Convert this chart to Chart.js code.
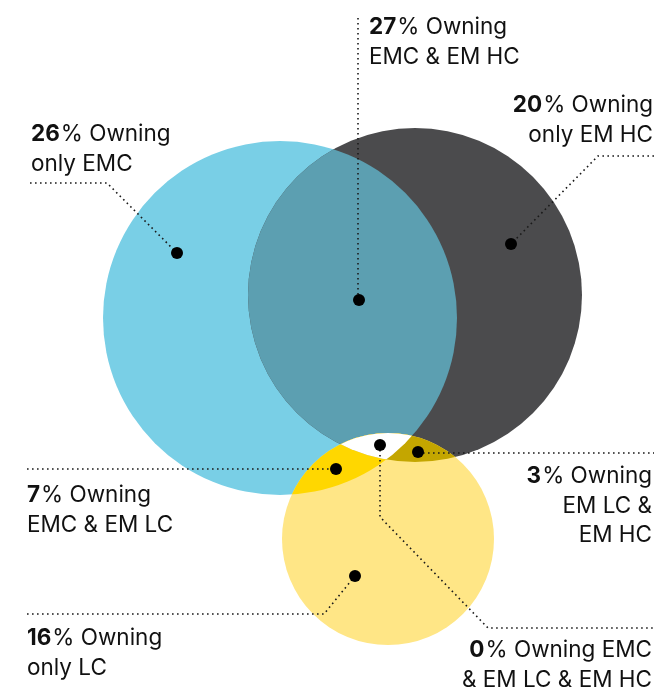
<!DOCTYPE html>
<html>
<head>
<meta charset="utf-8">
<script src="https://cdn.jsdelivr.net/npm/chart.js@4.4.0/dist/chart.umd.min.js"></script>
<style>
  html, body { margin: 0; padding: 0; background: #ffffff; }
  #wrap { width: 659px; height: 688px; position: relative; }
</style>
</head>
<body>
<div id="wrap"><canvas id="venn"></canvas></div>
<script>
// Sets and overlap shares (%)
const sets = ['EMC', 'EM HC', 'EM LC'];
const segments = ['only EMC', 'EMC & EM HC', 'only EM HC', 'EMC & EM LC', 'EM LC & EM HC', 'EMC & EM LC & EM HC', 'only LC'];
const shares = [26, 27, 20, 7, 3, 0, 16];
const labelLines = [
    ['Owning', 'only EMC'],
    ['Owning', 'EMC & EM HC'],
    ['Owning', 'only EM HC'],
    ['Owning', 'EMC & EM LC'],
    ['Owning', 'EM LC &', 'EM HC'],
    ['Owning EMC', '& EM LC & EM HC'],
    ['Owning', 'only LC']
];

// circle geometry, in chart units
const circleX = [280, 415, 388];
const circleY = [318, 295, 539];
const circleR = [177, 167, 106];

// marker dots and leader lines
const dotX = [177, 359, 511, 336, 418, 380, 355];
const dotY = [253, 300, 244, 469, 452, 445, 576];
const leaders = [
    [[30, 183], [107, 183], [177, 253]],
    [[358, 18], [358, 300]],
    [[654, 156], [598, 156], [511, 244]],
    [[27, 469], [336, 469]],
    [[418, 453], [654, 453]],
    [[380, 445], [380, 517], [488, 628], [655, 628]],
    [[27, 614], [324, 614], [355, 576]]
];
const labelX = [31, 369, 653, 27, 652, 652, 27];
const labelY = [141, 34, 112, 502, 483, 657, 645];
const labelAlign = ['left', 'left', 'right', 'left', 'right', 'right', 'left'];

const colors = {
    emc: '#79cfe6',
    hc: '#4b4b4d',
    emcHc: '#5c9fb1',
    lc: '#ffe686',
    emcLc: '#ffd700',
    lcHc: '#c4a600',
    all: '#ffffff'
};

const FONT = 'Inter, "Noto Sans", sans-serif';
const SIZE = 22.5;
const LINE_H = 29.5;

function circlePath(ctx, sx, sy, i) {
    const px = sx.getPixelForValue(circleX[i]);
    const py = sy.getPixelForValue(circleY[i]);
    const pr = Math.abs(sx.getPixelForValue(circleX[i] + circleR[i]) - px);
    ctx.beginPath();
    ctx.arc(px, py, pr, 0, Math.PI * 2);
}

function fillRegion(ctx, sx, sy, clips, target, color) {
    ctx.save();
    clips.forEach(i => { circlePath(ctx, sx, sy, i); ctx.clip(); });
    circlePath(ctx, sx, sy, target);
    ctx.fillStyle = color;
    ctx.fill();
    ctx.restore();
}

const vennPlugin = {
    id: 'venn',
    beforeDatasetsDraw(chart) {
        const ctx = chart.ctx;
        const sx = chart.scales.x, sy = chart.scales.y;
        fillRegion(ctx, sx, sy, [], 0, colors.emc);
        fillRegion(ctx, sx, sy, [], 1, colors.hc);
        fillRegion(ctx, sx, sy, [0], 1, colors.emcHc);
        fillRegion(ctx, sx, sy, [], 2, colors.lc);
        fillRegion(ctx, sx, sy, [0], 2, colors.emcLc);
        fillRegion(ctx, sx, sy, [1], 2, colors.lcHc);
        fillRegion(ctx, sx, sy, [0, 1], 2, colors.all);
    },
    afterDatasetsDraw(chart) {
        const ctx = chart.ctx;
        const sx = chart.scales.x, sy = chart.scales.y;
        ctx.save();
        ctx.fillStyle = '#111111';
        ctx.textBaseline = 'alphabetic';
        shares.forEach((v, i) => {
            const x = sx.getPixelForValue(labelX[i]);
            const y0 = sy.getPixelForValue(labelY[i]);
            labelLines[i].forEach((line, k) => {
                const y = y0 + k * LINE_H;
                if (k === 0) {
                    ctx.font = '700 ' + SIZE + 'px ' + FONT;
                    const num = String(v);
                    const wNum = ctx.measureText(num).width;
                    ctx.font = '400 ' + SIZE + 'px ' + FONT;
                    const rest = '% ' + line;
                    const wRest = ctx.measureText(rest).width;
                    const gap = 1;
                    let start = labelAlign[i] === 'left' ? x : x - (wNum + gap + wRest);
                    ctx.textAlign = 'left';
                    ctx.font = '700 ' + SIZE + 'px ' + FONT;
                    ctx.fillText(num, start, y);
                    ctx.font = '400 ' + SIZE + 'px ' + FONT;
                    ctx.fillText(rest, start + wNum + gap, y);
                } else {
                    ctx.font = '400 ' + SIZE + 'px ' + FONT;
                    ctx.textAlign = labelAlign[i];
                    ctx.fillText(line, x, y);
                }
            });
        });
        ctx.restore();
    }
};

const leaderSets = leaders.map(pts => ({
    type: 'line',
    data: pts.map(p => ({ x: p[0], y: p[1] })),
    borderColor: '#1a1a1a',
    borderWidth: 1.6,
    borderDash: [1.6, 3.4],
    pointRadius: 0,
    fill: false,
    tension: 0,
    order: 2
}));

new Chart(document.getElementById('venn').getContext('2d'), {
    type: 'scatter',
    data: {
        datasets: [
            ...leaderSets,
            {
                label: 'segments',
                data: dotX.map((x, i) => ({ x: x, y: dotY[i] })),
                pointRadius: 6,
                pointBackgroundColor: '#000000',
                pointBorderWidth: 0,
                order: 1
            }
        ]
    },
    options: {
        responsive: true,
        maintainAspectRatio: false,
        animation: false,
        layout: { padding: 0, autoPadding: false },
        plugins: { legend: { display: false }, tooltip: { enabled: false } },
        scales: {
            x: { type: 'linear', min: 0, max: 659, display: false },
            y: { type: 'linear', min: 0, max: 688, reverse: true, display: false }
        }
    },
    plugins: [vennPlugin]
});
</script>
</body>
</html>
